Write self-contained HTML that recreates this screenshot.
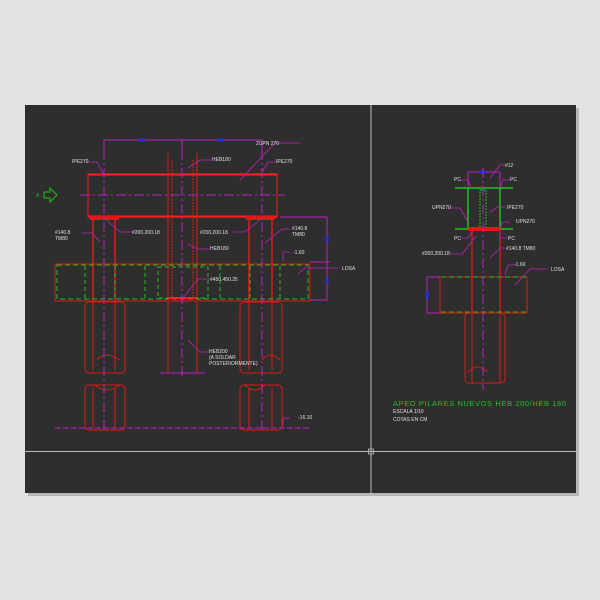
<!DOCTYPE html>
<html><head><meta charset="utf-8"><style>
html,body{margin:0;padding:0;background:#e3e3e3;width:600px;height:600px;overflow:hidden}
svg{display:block}
text{font-family:"Liberation Sans",sans-serif;fill:#e0e0e0;font-size:5px}
</style></head><body>
<svg width="600" height="600" viewBox="0 0 600 600" xmlns="http://www.w3.org/2000/svg">
<rect x="28" y="108" width="551" height="388" fill="#9a9a9a" opacity="0.6"/>
<rect x="25" y="105" width="551" height="388" fill="#2e2e2e"/>
<line x1="371" y1="105" x2="371" y2="493" stroke="#bdbdbd" stroke-width="1"/>
<line x1="25" y1="451.5" x2="576" y2="451.5" stroke="#bdbdbd" stroke-width="1"/>
<rect x="368.5" y="449" width="5" height="5" fill="none" stroke="#bdbdbd" stroke-width="0.8"/>

<!-- LEFT DRAWING -->
<g fill="none" stroke-width="1">
<!-- top dim -->
<polyline points="104,150 104,140 262,140 262,150" stroke="#c020c0"/>
<line x1="182" y1="140" x2="182" y2="153" stroke="#c020c0"/>
<rect x="139" y="138.5" width="6" height="3" fill="#2030e0" stroke="none"/>
<rect x="218" y="138.5" width="6" height="3" fill="#2030e0" stroke="none"/>
<!-- beam -->
<rect x="88" y="174" width="189" height="43" stroke="#e01818" stroke-width="1.2"/>
<line x1="88" y1="174.5" x2="277" y2="174.5" stroke="#ff2020" stroke-width="2"/>
<line x1="88" y1="216.5" x2="277" y2="216.5" stroke="#ff2020" stroke-width="2"/>
<!-- HEB180 -->
<line x1="168" y1="153" x2="168" y2="300" stroke="#e01818"/>
<line x1="197" y1="153" x2="197" y2="300" stroke="#e01818"/>
<line x1="172" y1="160" x2="172" y2="298" stroke="#e01818" stroke-dasharray="2,1"/>
<line x1="193" y1="160" x2="193" y2="298" stroke="#e01818" stroke-dasharray="2,1"/>
<!-- plates -->
<rect x="90" y="216" width="29" height="4" fill="#e01818" stroke="none"/>
<rect x="246" y="216" width="29" height="4" fill="#e01818" stroke="none"/>
<!-- left / right columns -->
<line x1="93" y1="220" x2="93" y2="302" stroke="#e01818" stroke-width="1.5"/>
<line x1="115" y1="220" x2="115" y2="302" stroke="#e01818" stroke-width="1.5"/>
<line x1="249" y1="220" x2="249" y2="302" stroke="#e01818" stroke-width="1.5"/>
<line x1="272" y1="220" x2="272" y2="302" stroke="#e01818" stroke-width="1.5"/>
<!-- slab -->
<rect x="55" y="264" width="255" height="37" stroke="#e01818"/>
<rect x="57" y="265" width="251" height="34" stroke="#22c022" stroke-dasharray="5,3"/>
<g stroke="#22c022" stroke-dasharray="4,3">
<line x1="85" y1="266" x2="85" y2="298"/><line x1="115" y1="266" x2="115" y2="298"/>
<line x1="145" y1="266" x2="145" y2="298"/><line x1="220" y1="266" x2="220" y2="298"/>
<line x1="250" y1="266" x2="250" y2="298"/><line x1="280" y1="266" x2="280" y2="298"/>
<rect x="158" y="267" width="50" height="31"/>
</g>
<line x1="168" y1="298" x2="197" y2="298" stroke="#ff2020" stroke-width="2"/>
<!-- lower piles -->
<g stroke="#e01818">
<rect x="85" y="302" width="40" height="71" rx="4"/>
<line x1="93" y1="302" x2="93" y2="370"/><line x1="115" y1="302" x2="115" y2="370"/>
<path d="M97,360 Q105,350 120,360"/>
<rect x="85" y="385" width="40" height="45" rx="4"/>
<line x1="93" y1="388" x2="93" y2="428"/><line x1="115" y1="388" x2="115" y2="428"/>
<path d="M95,385 Q105,395 120,385"/>
<rect x="240" y="302" width="42" height="71" rx="4"/>
<line x1="249" y1="302" x2="249" y2="370"/><line x1="272" y1="302" x2="272" y2="370"/>
<path d="M262,360 Q270,350 280,360"/>
<rect x="240" y="385" width="42" height="45" rx="4"/>
<line x1="249" y1="388" x2="249" y2="428"/><line x1="272" y1="388" x2="272" y2="428"/>
<path d="M245,385 Q255,395 265,385"/>
<line x1="168" y1="302" x2="168" y2="373"/><line x1="197" y1="302" x2="197" y2="373"/>
</g>
<!-- centerlines -->
<g stroke="#c020c0" stroke-dasharray="10,3,2,3">
<line x1="104" y1="150" x2="104" y2="430"/>
<line x1="262" y1="150" x2="262" y2="430"/>
<line x1="182" y1="150" x2="182" y2="378"/>
<line x1="80" y1="195" x2="285" y2="195"/>
</g>
<line x1="160" y1="373" x2="205" y2="373" stroke="#c020c0"/>
<line x1="55" y1="428" x2="310" y2="428" stroke="#c020c0" stroke-dasharray="6,2"/>
<!-- right dim -->
<polyline points="280,217 327,217 327,300 310,300" stroke="#c020c0"/>
<line x1="310" y1="262" x2="330" y2="262" stroke="#c020c0"/>
<rect x="325.5" y="236" width="3" height="6" fill="#2030e0" stroke="none"/>
<rect x="325.5" y="278" width="3" height="6" fill="#2030e0" stroke="none"/>
<!-- leaders -->
<g stroke="#c020c0" stroke-width="0.8">
<polyline points="88,162 97,162 104,175"/>
<polyline points="300,143 275,143 240,180"/>
<polyline points="212,160 200,160 188,168"/>
<polyline points="276,162 268,162 262,172"/>
<polyline points="82,233 92,233 100,242"/>
<polyline points="132,232 120,232 104,218"/>
<polyline points="233,232 245,232 260,220"/>
<polyline points="290,229 282,229 265,243"/>
<polyline points="210,249 197,249 188,244"/>
<polyline points="210,279 198,279 183,298"/>
<polyline points="210,352 200,352 188,340"/>
<polyline points="338,268 305,268 298,274"/>
<polyline points="290,252 283,252 283,262"/>
<polyline points="290,418 283,418 283,426"/>
</g>
<!-- arrow A -->
<path d="M44,192 L50,192 L50,188 L57,195 L50,202 L50,198 L44,198 Z" stroke="#22c022"/>
</g>
<g>
<text x="72" y="163">IPE270</text>
<text x="256" y="145">2UPN 270</text>
<text x="212" y="161">HEB180</text>
<text x="276" y="163">IPE270</text>
<text x="55" y="234">#140.8</text><text x="55" y="240">TM80</text>
<text x="132" y="234">#200.200.18</text>
<text x="200" y="234">#200.200.18</text>
<text x="292" y="230">#140.8</text><text x="292" y="236">TM80</text>
<text x="210" y="250">HEB180</text>
<text x="293" y="254">-1.60</text>
<text x="342" y="270">LOSA</text>
<text x="210" y="281">#450.450.25</text>
<text x="209" y="353">HEB200</text>
<text x="209" y="359">(A SOLDAR</text>
<text x="209" y="365">POSTERIORMENTE)</text>
<text x="298" y="419">-16.10</text>
<text x="36" y="197" style="fill:#22c022">A</text>
</g>

<!-- RIGHT DRAWING -->
<g fill="none" stroke-width="1">
<polyline points="468,186 468,172 500,172 500,186" stroke="#c020c0"/>
<rect x="479" y="170.5" width="7" height="3" fill="#2030e0" stroke="none"/>
<line x1="455" y1="188" x2="513" y2="188" stroke="#22c022" stroke-width="1.5"/>
<line x1="455" y1="229" x2="513" y2="229" stroke="#22c022" stroke-width="1.5"/>
<line x1="468" y1="188" x2="468" y2="229" stroke="#22c022" stroke-width="1.5"/>
<line x1="500" y1="188" x2="500" y2="229" stroke="#22c022" stroke-width="1.5"/>
<rect x="480" y="190" width="6" height="38" stroke="#22c022" stroke-dasharray="2,1"/>
<rect x="468" y="227" width="32" height="4" fill="#e01818" stroke="none"/>
<line x1="472" y1="231" x2="472" y2="313" stroke="#e01818" stroke-width="1.3"/>
<line x1="500" y1="231" x2="500" y2="313" stroke="#e01818" stroke-width="1.3"/>
<rect x="440" y="277" width="87" height="36" stroke="#e01818"/>
<line x1="441" y1="277" x2="526" y2="277" stroke="#22c022" stroke-dasharray="5,3"/>
<line x1="441" y1="312" x2="526" y2="312" stroke="#22c022" stroke-dasharray="5,3"/>
<g stroke="#e01818">
<rect x="465" y="313" width="40" height="70" rx="4"/>
<line x1="472" y1="313" x2="472" y2="383"/><line x1="500" y1="313" x2="500" y2="383"/>
<path d="M468,372 Q478,362 487,372"/>
</g>
<line x1="483" y1="168" x2="483" y2="390" stroke="#c020c0" stroke-dasharray="10,3,2,3"/>
<polyline points="440,277 427,277 427,313 440,313" stroke="#c020c0"/>
<rect x="425.5" y="292" width="3" height="7" fill="#2030e0" stroke="none"/>
<g stroke="#c020c0" stroke-width="0.8">
<polyline points="505,165 500,165 490,178"/>
<polyline points="460,180 468,180 471,188"/>
<polyline points="510,180 503,180 500,188"/>
<polyline points="448,208 460,208 468,222"/>
<polyline points="510,222 502,222 500,229"/>
<polyline points="505,207 498,207 490,212"/>
<polyline points="460,238 468,238 472,232"/>
<polyline points="507,238 500,238 500,232"/>
<polyline points="450,254 462,254 476,236"/>
<polyline points="505,248 500,248 490,258"/>
<polyline points="514,265 508,265 505,275"/>
<polyline points="547,269 530,269 515,285"/>
</g>
</g>
<g>
<text x="505" y="167">#12</text>
<text x="454" y="181">PC</text>
<text x="510" y="181">PC</text>
<text x="432" y="209">UPN270</text>
<text x="507" y="209">IPE270</text>
<text x="516" y="223">UPN270</text>
<text x="454" y="240">PC</text>
<text x="508" y="240">PC</text>
<text x="422" y="255">#200.200.18</text>
<text x="506" y="250">#140.8 TM80</text>
<text x="514" y="266">-1.60</text>
<text x="551" y="271">LOSA</text>
<text x="393" y="406" style="fill:#22c022;font-size:7.5px;letter-spacing:0.6px">APEO PILARES NUEVOS HEB 200/HEB 180</text>
<text x="393" y="413">ESCALA 1/10</text>
<text x="393" y="421">COTAS EN CM</text>
</g>
</svg>
</body></html>
